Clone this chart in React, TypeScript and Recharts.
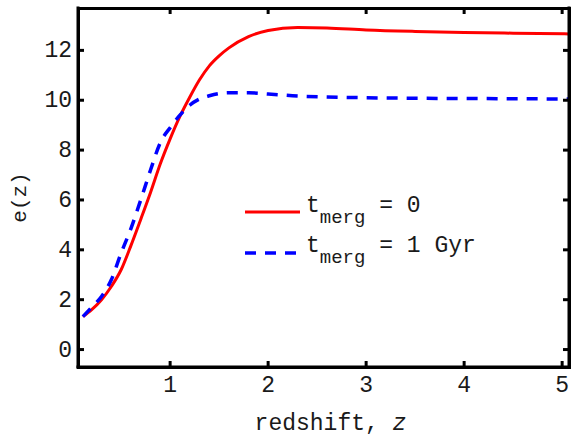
import React from 'react';
import { LineChart, Line, XAxis, YAxis, Legend } from 'recharts';

const redshift = [0.11, 0.2, 0.3, 0.4, 0.5, 0.6, 0.7, 0.8, 0.9, 1.0, 1.1, 1.2, 1.3, 1.4, 1.5, 1.6, 1.8, 2.0, 2.3, 2.6, 3.0, 3.5, 4.0, 4.5, 5.07];
const eMerg0 = [1.32, 1.6, 2.0, 2.53, 3.2, 4.17, 5.22, 6.3, 7.45, 8.45, 9.35, 10.12, 10.82, 11.38, 11.78, 12.1, 12.55, 12.8, 12.92, 12.9, 12.82, 12.76, 12.72, 12.69, 12.66];
const eMerg1 = [1.32, 1.7, 2.13, 2.8, 3.87, 4.85, 6.0, 7.2, 8.3, 8.9, 9.4, 9.8, 10.05, 10.18, 10.27, 10.3, 10.3, 10.25, 10.17, 10.13, 10.1, 10.08, 10.07, 10.06, 10.05];
const xTicks = [1, 2, 3, 4, 5];
const yTicks = [0, 2, 4, 6, 8, 10, 12];
const X_DOMAIN: [number, number] = [0.06, 5.07];
const Y_DOMAIN: [number, number] = [-0.7, 13.7];

const data = redshift.map((z, i) => ({ z, a: eMerg0[i], b: eMerg1[i] }));

const W = 572;
const H = 437;
const M_TOP = 8;
const M_RIGHT = 0;
const LEFT_W = 78;
const RIGHT_W = 3;
const BOTTOM_H = 70;
const PLOT_H = H - M_TOP - BOTTOM_H;

const FONT = "'Liberation Mono', 'Courier New', monospace";
const TXT = '#1a1a1a';
const FS = 23;

const BottomTick = (p: any) => (
  <g>
    <line x1={p.x} x2={p.x} y1={p.y} y2={p.y - 6} stroke="#000" strokeWidth={3} />
    <line x1={p.x} x2={p.x} y1={p.y - PLOT_H} y2={p.y - PLOT_H + 6} stroke="#000" strokeWidth={3} />
    <text x={p.x} y={p.y + 25} textAnchor="middle" fontFamily={FONT} fontSize={FS} fill={TXT}>{p.payload.value}</text>
  </g>
);
const LeftTick = (p: any) => (
  <g>
    <line x1={p.x} x2={p.x + 6} y1={p.y} y2={p.y} stroke="#000" strokeWidth={3} />
    <text x={p.x - 6} y={p.y + 7} textAnchor="end" fontFamily={FONT} fontSize={FS} fill={TXT}>{p.payload.value}</text>
  </g>
);
const RightTick = (p: any) => (
  <line x1={p.x} x2={p.x - 6} y1={p.y} y2={p.y} stroke="#000" strokeWidth={3} />
);

const axisLine = { stroke: '#000', strokeWidth: 3, strokeLinecap: 'square' as const };

const LegendContent = () => (
  <svg width={260} height={80} style={{ display: 'block' }}>
    <line x1={5} x2={60} y1={22} y2={22} stroke="#ff0000" strokeWidth={3} />
    <text x={66} y={22} fontFamily={FONT} fontSize={FS} fill={TXT}>
      t<tspan fontSize={19} dy={11}>merg</tspan><tspan dy={-11}> = 0</tspan>
    </text>
    <line x1={5} x2={60} y1={63} y2={63} stroke="#0000ff" strokeWidth={3.5} strokeDasharray="11 9" />
    <text x={66} y={62} fontFamily={FONT} fontSize={FS} fill={TXT}>
      t<tspan fontSize={19} dy={11}>merg</tspan><tspan dy={-11}> = 1 Gyr</tspan>
    </text>
  </svg>
);

export default function App() {
  const plotW = W - LEFT_W - RIGHT_W - M_RIGHT;
  return (
    <div style={{ position: 'absolute', left: 0, top: 0, width: W, height: H, background: '#fff' }}>
      <LineChart width={W} height={H} data={data} margin={{ top: M_TOP, right: M_RIGHT, bottom: 0, left: 0 }}>
        <XAxis
          dataKey="z"
          type="number"
          domain={X_DOMAIN}
          ticks={xTicks}
          interval={0}
          height={BOTTOM_H}
          tickSize={0}
          tickMargin={0}
          tickLine={false}
          axisLine={axisLine}
          tick={BottomTick}
          allowDataOverflow
          label={{
            content: (props: any) => {
              const vb = props.viewBox;
              return (
                <text x={vb.x + vb.width / 2 + 7} y={vb.y + 63} textAnchor="middle" fontFamily={FONT} fontSize={FS} fill={TXT}>
                  redshift, <tspan fontStyle="italic">z</tspan>
                </text>
              );
            },
          }}
        />
        <YAxis
          type="number"
          domain={Y_DOMAIN}
          ticks={yTicks}
          interval={0}
          width={LEFT_W}
          tickSize={0}
          tickMargin={0}
          tickLine={false}
          axisLine={axisLine}
          tick={LeftTick}
          allowDataOverflow
          label={{
            content: (props: any) => {
              const vb = props.viewBox;
              const cx = 20;
              const cy = vb.y + vb.height / 2 + 10;
              return (
                <text x={cx} y={cy} transform={`rotate(-90 ${cx} ${cy})`} textAnchor="middle" dominantBaseline="central" fontFamily={FONT} fontSize={21} fill={TXT}>
                  e(z)
                </text>
              );
            },
          }}
        />
        <YAxis
          yAxisId="right"
          orientation="right"
          type="number"
          domain={Y_DOMAIN}
          ticks={yTicks}
          interval={0}
          width={RIGHT_W}
          tickSize={0}
          tickMargin={0}
          tickLine={false}
          axisLine={axisLine}
          tick={RightTick}
          allowDataOverflow
        />
        <Legend
          layout="vertical"
          align="center"
          verticalAlign="middle"
          content={LegendContent}
          wrapperStyle={{ left: 240, top: 190, width: 260, height: 80 }}
        />
        <Line type="monotone" dataKey="a" stroke="#ff0000" strokeWidth={3} dot={false} activeDot={false} isAnimationActive={false} />
        <Line type="monotone" dataKey="b" stroke="#0000ff" strokeWidth={3.5} strokeDasharray="11 9" dot={false} activeDot={false} isAnimationActive={false} />
      </LineChart>
      <div
        style={{
          position: 'absolute',
          left: LEFT_W - 1.5,
          top: M_TOP - 1.5,
          width: plotW + 3,
          height: PLOT_H + 3,
          boxSizing: 'border-box',
          border: '3px solid #000',
          pointerEvents: 'none',
        }}
      />
    </div>
  );
}
